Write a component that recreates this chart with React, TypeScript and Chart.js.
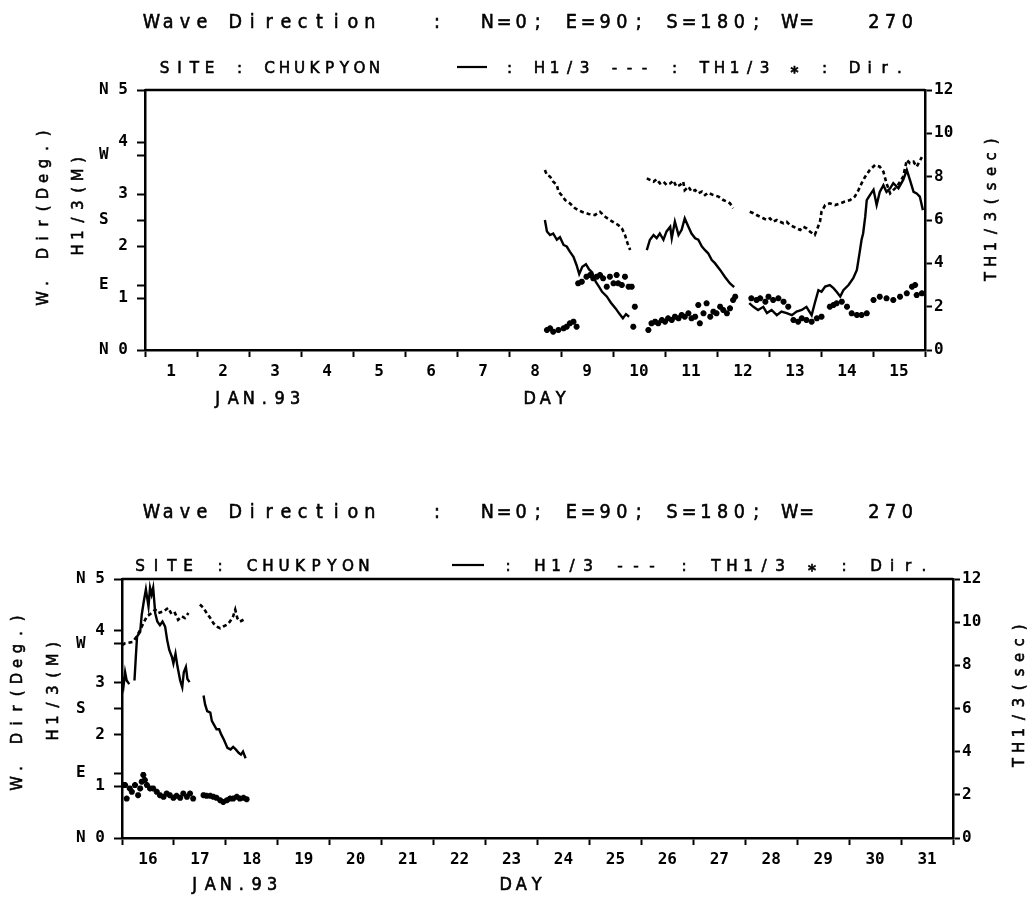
import React, { useEffect, useRef } from 'react';
import { Chart, registerables } from 'chart.js';

Chart.register(...registerables);

// ---------------- DATA ----------------
// Days are decimal days of January 1993 (e.g. 8.5 = Jan 8, 12:00). null = data gap.

// Panel 1: Jan 1 - 15
const topHDays = [
  8.69, 8.73, 8.79, 8.85, 8.92, 8.98, 9.05, 9.11, 9.17, 9.24, 9.30, 9.35, 9.41, 9.48, 9.54, 9.60, 9.67, 9.73, 9.79, 9.88, 9.96, 10.05, 10.12, 10.19, 10.25, 10.31,
  10.48,
  10.65, 10.71, 10.78, 10.84, 10.90, 10.97, 11.03, 11.10, 11.13, 11.19, 11.26, 11.32, 11.38, 11.45, 11.51, 11.58, 11.64, 11.71, 11.77, 11.83, 11.90, 11.96, 12.06, 12.15, 12.25, 12.33,
  12.48,
  12.62, 12.70, 12.79, 12.89, 12.96, 13.05, 13.15, 13.24, 13.34, 13.44, 13.53, 13.63, 13.72, 13.82, 13.88, 13.95, 14.01, 14.08, 14.17, 14.24, 14.30, 14.37, 14.43, 14.53, 14.62, 14.69, 14.72, 14.75, 14.78,
  14.81, 14.85, 14.88, 14.94, 15.01, 15.07, 15.13, 15.20, 15.26, 15.33, 15.39, 15.49, 15.58, 15.65, 15.71, 15.78, 15.84, 15.90, 15.96,
];
const topH = [
  2.50, 2.28, 2.21, 2.24, 2.12, 2.17, 2.02, 1.99, 1.89, 1.79, 1.63, 1.46, 1.60, 1.65, 1.55, 1.49, 1.31, 1.22, 1.12, 1.03, 0.91, 0.80, 0.70, 0.61, 0.69, 0.64,
  null,
  1.92, 2.12, 2.21, 2.15, 2.24, 2.12, 2.28, 2.37, 2.15, 2.47, 2.21, 2.31, 2.53, 2.37, 2.24, 2.15, 2.12, 1.99, 1.92, 1.86, 1.73, 1.67, 1.54, 1.41, 1.28, 1.21,
  null,
  0.90, 0.83, 0.77, 0.83, 0.71, 0.77, 0.67, 0.74, 0.71, 0.67, 0.74, 0.77, 0.83, 0.67, 0.90, 1.15, 1.12, 1.22, 1.25, 1.19, 1.12, 1.03, 1.15, 1.25, 1.38, 1.54, 1.73, 1.92, 2.12,
  2.24, 2.56, 2.88, 2.98, 3.08, 2.79, 3.04, 3.17, 3.04, 3.11, 3.21, 3.11, 3.27, 3.46, 3.27, 3.04, 3.01, 2.95, 2.69,
];

const topThDays = [
  8.69, 8.73, 8.79, 8.85, 8.92, 8.95, 9.01, 9.08, 9.17, 9.27, 9.40, 9.53, 9.65, 9.75, 9.85, 9.94, 10.04, 10.10, 10.17, 10.23, 10.28, 10.33,
  10.49,
  10.65, 10.71, 10.78, 10.84, 10.90, 10.97, 11.03, 11.10, 11.16, 11.22, 11.29, 11.35, 11.38, 11.45, 11.51, 11.58, 11.64, 11.71, 11.77, 11.83, 11.93, 12.03, 12.12, 12.19, 12.25, 12.31,
  12.47,
  12.63, 12.70, 12.76, 12.83, 12.89, 12.96, 13.02, 13.08, 13.15, 13.21, 13.28, 13.34, 13.40, 13.47, 13.53, 13.60, 13.66, 13.72, 13.79,
  13.88, 13.92, 13.98, 14.01, 14.08, 14.17, 14.27, 14.37, 14.46, 14.56, 14.65, 14.72, 14.78, 14.85, 14.94, 15.04, 15.13, 15.20, 15.26, 15.33, 15.39, 15.46, 15.52, 15.58, 15.65, 15.71, 15.78, 15.84, 15.94,
];
const topTh = [
  8.31, 8.08, 8.00, 7.77, 7.62, 7.31, 7.15, 6.92, 6.77, 6.54, 6.38, 6.28, 6.23, 6.38, 6.15, 6.00, 5.85, 5.77, 5.62, 5.31, 4.92, 4.62,
  null,
  7.92, 7.85, 7.77, 7.88, 7.69, 7.77, 7.62, 7.69, 7.82, 7.54, 7.62, 7.77, 7.38, 7.54, 7.31, 7.38, 7.23, 7.31, 7.15, 7.26, 7.15, 7.08, 6.92, 6.85, 6.77, 6.54,
  null,
  6.38, 6.31, 6.23, 6.15, 6.08, 6.00, 6.08, 5.92, 6.00, 5.92, 5.85, 5.92, 5.77, 5.69, 5.62, 5.54, 5.69, 5.62, 5.46,
  5.31, 5.54, 5.92, 6.38, 6.69, 6.77, 6.69, 6.77, 6.85, 6.92, 7.08, 7.38, 7.69, 8.00, 8.31, 8.54, 8.46, 8.23, 7.69, 7.23, 7.38, 7.54, 7.77, 8.00, 8.77, 8.62, 8.69, 8.46, 8.90,
];

const topDirDays = [
  8.73, 8.79, 8.85, 8.95, 9.05, 9.11, 9.17, 9.24, 9.30,
  9.33, 9.40, 9.49, 9.56, 9.62, 9.69, 9.75, 9.81, 9.88, 9.94, 10.01, 10.07, 10.10, 10.17, 10.23, 10.30, 10.36, 10.39, 10.42,
  10.68, 10.74, 10.81, 10.87, 10.94, 11.00, 11.06, 11.13, 11.19, 11.26, 11.32, 11.38, 11.45, 11.51, 11.58, 11.64, 11.67, 11.74, 11.80, 11.87, 11.93, 11.99, 12.06, 12.12, 12.19, 12.25, 12.31, 12.35,
  12.66, 12.76, 12.83, 12.93, 12.99, 13.08, 13.18, 13.28, 13.37, 13.47, 13.56, 13.63, 13.72, 13.82, 13.92, 14.01, 14.17, 14.24, 14.30, 14.40, 14.50, 14.59, 14.69, 14.78, 14.88, 15.01, 15.13, 15.26, 15.39, 15.52, 15.65, 15.75, 15.81, 15.84, 15.94,
];
const topDir = [
  27.7, 30.0, 25.4, 27.7, 30.0, 32.3, 36.9, 39.2, 32.3,
  92.3, 94.6, 101.5, 103.8, 99.2, 101.5, 103.8, 99.2, 87.7, 101.5, 92.3, 103.8, 92.3, 90.0, 101.5, 87.7, 87.7, 32.3, 60.0,
  27.7, 36.9, 39.2, 36.9, 41.5, 39.2, 43.8, 41.5, 46.2, 43.8, 48.5, 46.2, 50.8, 43.8, 46.2, 62.3, 36.9, 50.8, 64.6, 46.2, 53.1, 50.8, 60.0, 55.4, 50.8, 57.7, 69.2, 73.8,
  71.5, 69.2, 71.5, 66.9, 73.8, 69.2, 71.5, 66.9, 60.0, 41.5, 39.2, 43.8, 41.5, 39.2, 43.8, 46.2, 60.0, 62.3, 64.6, 66.9, 60.0, 50.8, 48.5, 48.5, 50.8, 69.2, 73.8, 71.5, 69.2, 73.8, 78.5, 87.7, 90.0, 76.0, 78.5,
];

// Panel 2: Jan 16 - 31
const botHDays = [
  16.00, 16.03, 16.06, 16.09, 16.14,
  16.19,
  16.24, 16.27, 16.29, 16.35, 16.38, 16.42, 16.46, 16.51, 16.54, 16.57, 16.60, 16.64, 16.68, 16.73, 16.78, 16.83, 16.87, 16.91, 16.96, 16.99, 17.03, 17.07, 17.12, 17.16, 17.19, 17.23, 17.26, 17.30,
  17.45,
  17.57, 17.60, 17.64, 17.70, 17.73, 17.77, 17.82, 17.87, 17.91, 17.96, 18.03, 18.09, 18.14, 18.19, 18.25, 18.29, 18.33, 18.38,
];
const botH = [
  3.11, 2.94, 3.20, 3.04, 2.97,
  null,
  3.04, 3.56, 3.89, 3.98, 4.31, 4.57, 4.80, 4.47, 4.83, 4.70, 4.83, 4.34, 4.18, 4.11, 4.18, 4.08, 3.82, 3.63, 3.50, 3.37, 3.56, 3.30, 3.04, 2.91, 3.20, 3.30, 3.07, 3.01,
  null,
  2.75, 2.58, 2.45, 2.42, 2.26, 2.19, 2.10, 2.10, 2.00, 1.90, 1.74, 1.71, 1.76, 1.71, 1.64, 1.61, 1.67, 1.54,
];

const botThDays = [
  16.00, 16.06, 16.21, 16.28, 16.35, 16.41, 16.48, 16.57, 16.64, 16.70, 16.80, 16.89, 16.96, 17.02, 17.08, 17.15, 17.21, 17.28,
  17.40,
  17.50, 17.57, 17.63, 17.70, 17.76, 17.82, 17.89, 17.95, 18.02, 18.08, 18.14, 18.18, 18.22, 18.27, 18.34,
];
const botTh = [
  8.94, 9.02, 9.09, 9.33, 9.64, 9.95, 10.27, 10.42, 10.58, 10.42, 10.50, 10.66, 10.35, 10.42, 10.11, 10.27, 10.19, 10.42,
  null,
  10.82, 10.66, 10.42, 10.19, 9.95, 9.80, 9.72, 9.80, 9.88, 10.03, 10.27, 10.58, 10.19, 10.03, 10.11,
];

const botDirDays = [
  16.03, 16.06, 16.09, 16.15, 16.19, 16.25, 16.31, 16.35, 16.38, 16.41, 16.44, 16.48, 16.54, 16.60, 16.67, 16.73, 16.80, 16.86, 16.92, 16.99, 17.05, 17.12, 17.18, 17.25, 17.31, 17.37,
  17.57, 17.63, 17.70, 17.76, 17.82, 17.89, 17.95, 18.02, 18.08, 18.14, 18.21, 18.27, 18.34, 18.40,
];
const botDir = [
  73.6, 73.6, 54.8, 68.9, 64.2, 73.6, 59.5, 68.9, 78.3, 87.7, 80.6, 73.6, 68.9, 68.9, 64.2, 59.5, 57.2, 61.9, 59.5, 55.8, 58.6, 55.8, 61.9, 57.2, 61.9, 54.8,
  59.5, 58.6, 58.6, 57.2, 55.8, 52.5, 50.2, 52.5, 54.8, 54.8, 57.2, 54.8, 55.8, 53.9,
];

// Axis ticks / labels
const leftTickValues = [0, 1, 1.25, 2, 2.5, 3, 3.75, 4, 5];
const leftTickLabels = ['N 0', '1', 'E  ', '2', 'S  ', '3', 'W  ', '4', 'N 5'];
const titleText = 'Wave Direction   :  N=0; E=90; S=180; W=   270';
const subtitleText = 'SITE : CHUKPYON     ~~ : H1/3 --- : TH1/3 * : Dir.';
const leftTitle1 = 'W. Dir(Deg.)';
const leftTitle2 = 'H1/3(M)';
const rightTitle = 'TH1/3(sec)';
const monthText = 'JAN.93';
const dayText = 'DAY';

// ---------------- DRAWING HELPERS ----------------
const TITLE_FONT = '20px "DejaVu Sans", sans-serif';
const SUB_FONT = '16px "DejaVu Sans", sans-serif';
const AXT_FONT = '16px "DejaVu Sans", sans-serif';
const MONTH_FONT = '17px "DejaVu Sans", sans-serif';

function drawMono(ctx: CanvasRenderingContext2D, text: string, x0: number, y: number, cell: number, font: string, sx: number) {
  ctx.save();
  ctx.font = font;
  ctx.fillStyle = '#000';
  ctx.strokeStyle = '#000';
  ctx.textAlign = 'center';
  ctx.textBaseline = 'alphabetic';
  for (let i = 0; i < text.length; i++) {
    const ch = text[i];
    if (ch === ' ') continue;
    const cx = x0 + (i + 0.5) * cell;
    if (ch === '~') {
      ctx.lineWidth = 2.2;
      ctx.beginPath();
      ctx.moveTo(x0 + i * cell, y - 6);
      ctx.lineTo(x0 + (i + 1) * cell, y - 6);
      ctx.stroke();
      continue;
    }
    ctx.save();
    ctx.translate(cx, ch === '*' ? y + 5 : y);
    ctx.scale(sx, 1);
    if (ch === '*') {
      ctx.font = 'bold ' + font;
    }
    ctx.lineWidth = 0.6;
    ctx.fillText(ch, 0, 0);
    ctx.strokeText(ch, 0, 0);
    ctx.restore();
  }
  ctx.restore();
}

function drawMonoRot(ctx: CanvasRenderingContext2D, text: string, cx: number, cy: number, cell: number, font: string, sx: number) {
  ctx.save();
  ctx.translate(cx, cy);
  ctx.rotate(-Math.PI / 2);
  drawMono(ctx, text, -(text.length * cell) / 2, 6, cell, font, sx);
  ctx.restore();
}

type Area = { left: number; top: number; right: number; bottom: number };
type Layout = {
  title: [number, number, number];
  sub: [number, number, number];
  lt1: [number, number];
  lt2: [number, number];
  rt: [number, number];
  month: [number, number];
  day: [number, number];
};

type PanelCfg = {
  width: number;
  height: number;
  area: Area;
  xMin: number;
  xMax: number;
  hDays: number[];
  hVals: (number | null)[];
  thDays: number[];
  thVals: (number | null)[];
  dirDays: number[];
  dirVals: number[];
  layout: Layout;
};

function makeDecor(cfg: PanelCfg) {
  return {
    id: 'decor',
    afterDraw(chart: any) {
      const ctx: CanvasRenderingContext2D = chart.ctx;
      const a = chart.chartArea;
      const L = cfg.layout;
      ctx.save();
      ctx.strokeStyle = '#000';
      ctx.lineWidth = 2.5;
      ctx.beginPath();
      ctx.moveTo(a.left, a.top);
      ctx.lineTo(a.right, a.top);
      ctx.stroke();
      ctx.restore();
      drawMono(ctx, titleText, L.title[0], L.title[1], L.title[2], TITLE_FONT, 0.88);
      drawMono(ctx, subtitleText, L.sub[0], L.sub[1], L.sub[2], SUB_FONT, 0.95);
      drawMonoRot(ctx, leftTitle1, L.lt1[0], L.lt1[1], 15, AXT_FONT, 0.92);
      drawMonoRot(ctx, leftTitle2, L.lt2[0], L.lt2[1], 15, AXT_FONT, 0.92);
      drawMonoRot(ctx, rightTitle, L.rt[0], L.rt[1], 15, AXT_FONT, 0.92);
      drawMono(ctx, monthText, L.month[0], L.month[1], 15.5, MONTH_FONT, 0.95);
      drawMono(ctx, dayText, L.day[0], L.day[1], 15.5, MONTH_FONT, 0.95);
    },
  };
}

const TICK_FONT = { family: '"DejaVu Sans Mono", monospace', size: 16, weight: 'bold' as const };

function Panel({ cfg }: { cfg: PanelCfg }) {
  const ref = useRef<HTMLCanvasElement | null>(null);
  useEffect(() => {
    if (!ref.current) return;
    const { area, width, height, xMin, xMax } = cfg;
    const half = (area.right - area.left) / (xMax - xMin) / 2;
    const gridCommon = {
      drawOnChartArea: false,
      drawTicks: true,
      tickWidth: 2,
      tickColor: '#000',
      color: '#000',
    };
    const border = { color: '#000', width: 2.5 };
    const chart = new Chart(ref.current, {
      type: 'line',
      data: {
        datasets: [
          {
            label: 'H1/3',
            data: cfg.hDays.map((d, i) => ({ x: d, y: cfg.hVals[i] })),
            yAxisID: 'y',
            borderColor: '#000',
            borderWidth: 2.4,
            pointRadius: 0,
            spanGaps: false,
            tension: 0,
          },
          {
            label: 'TH1/3',
            data: cfg.thDays.map((d, i) => ({ x: d, y: cfg.thVals[i] })),
            yAxisID: 'y1',
            borderColor: '#000',
            borderWidth: 2.6,
            borderDash: [4, 3],
            pointRadius: 0,
            spanGaps: false,
            tension: 0,
          },
          {
            label: 'Dir',
            data: cfg.dirDays.map((d, i) => ({ x: d, y: cfg.dirVals[i] })),
            yAxisID: 'yDir',
            showLine: false,
            pointStyle: 'star',
            pointRadius: 3,
            pointBorderWidth: 2,
            pointBorderColor: '#000',
            pointBackgroundColor: '#000',
          },
        ],
      } as any,
      options: {
        responsive: false,
        animation: false,
        devicePixelRatio: 1,
        events: [],
        layout: { padding: { top: area.top, left: 0, right: 0, bottom: 0 } },
        plugins: {
          legend: { display: false },
          tooltip: { enabled: false },
          title: { display: false },
        },
        scales: {
          x: {
            type: 'linear',
            position: 'bottom',
            min: xMin,
            max: xMax,
            ticks: {
              stepSize: 1,
              autoSkip: false,
              maxRotation: 0,
              minRotation: 0,
              labelOffset: half,
              padding: 5,
              color: '#000',
              font: TICK_FONT,
              callback: (v: any) => (Number(v) < xMax ? String(v) : ''),
            },
            grid: { ...gridCommon, tickLength: 7 },
            border,
            afterFit: (s: any) => {
              s.height = height - area.bottom;
            },
          },
          y: {
            type: 'linear',
            position: 'left',
            min: 0,
            max: 5,
            afterBuildTicks: (s: any) => {
              s.ticks = leftTickValues.map((v) => ({ value: v }));
            },
            ticks: {
              autoSkip: false,
              padding: 9,
              color: '#000',
              font: TICK_FONT,
              callback: (_v: any, i: number) => leftTickLabels[i],
            },
            grid: { ...gridCommon, tickLength: 8 },
            border,
            afterFit: (s: any) => {
              s.width = area.left;
            },
          },
          y1: {
            type: 'linear',
            position: 'right',
            min: 0,
            max: 12,
            ticks: {
              stepSize: 2,
              autoSkip: false,
              padding: 2,
              color: '#000',
              font: TICK_FONT,
            },
            grid: { ...gridCommon, tickLength: 7 },
            border,
            afterFit: (s: any) => {
              s.width = width - area.right;
            },
          },
          yDir: { type: 'linear', display: false, min: 0, max: 360 },
        },
      } as any,
      plugins: [makeDecor(cfg)],
    });
    return () => chart.destroy();
  }, [cfg]);
  return (
    <canvas
      ref={ref}
      width={cfg.width}
      height={cfg.height}
      style={{ display: 'block', width: cfg.width, height: cfg.height }}
    />
  );
}

const topCfg: PanelCfg = {
  width: 1020,
  height: 492,
  area: { left: 137, top: 82, right: 917, bottom: 342 },
  xMin: 1,
  xMax: 16,
  hDays: topHDays,
  hVals: topH,
  thDays: topThDays,
  thVals: topTh,
  dirDays: topDirDays,
  dirVals: topDir,
  layout: {
    title: [135, 20, 16.8],
    sub: [149, 65, 15],
    lt1: [34, 208],
    lt2: [69, 197],
    rt: [982, 201],
    month: [202, 396],
    day: [514, 396],
  },
};

const botCfg: PanelCfg = {
  width: 1020,
  height: 397,
  area: { left: 114, top: 79, right: 945, bottom: 338 },
  xMin: 16,
  xMax: 32,
  hDays: botHDays,
  hVals: botH,
  thDays: botThDays,
  thVals: botTh,
  dirDays: botDirDays,
  dirVals: botDir,
  layout: {
    title: [135, 18, 16.8],
    sub: [124, 71, 16],
    lt1: [8, 201],
    lt2: [44, 190],
    rt: [1010, 195],
    month: [179, 390],
    day: [490, 390],
  },
};

export default function App() {
  return (
    <div style={{ width: 1020 }}>
      <Panel cfg={topCfg} />
      <Panel cfg={botCfg} />
    </div>
  );
}
